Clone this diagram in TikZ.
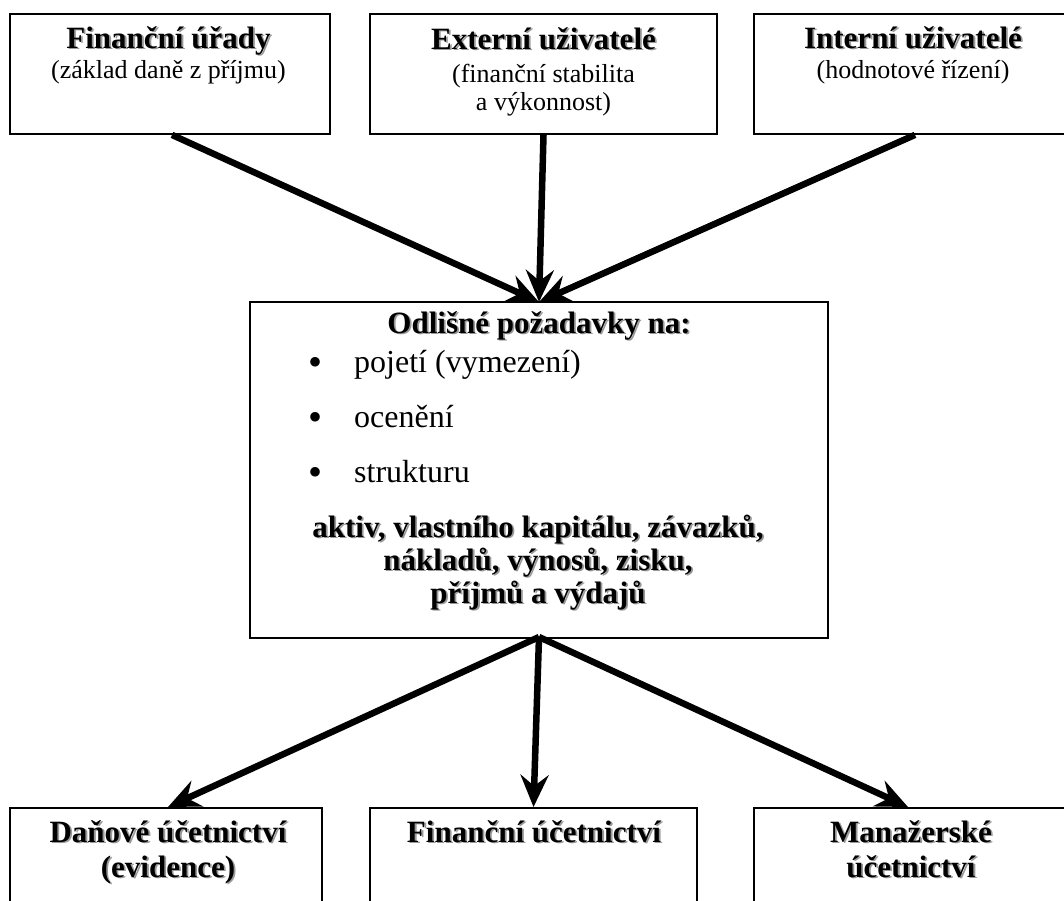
\documentclass[tikz,border=0pt]{standalone}
\usepackage{fontspec}
\setmainfont{Liberation Serif}
\usetikzlibrary{arrows.meta}

% bold heading with a soft grey drop shadow
\newcommand\shadowtext[1]{\leavevmode\rlap{\hspace{1.8pt}\raisebox{-1.8pt}{\color{black!40}#1}}#1}
\newcommand\headfont{\fontsize{31}{36}\selectfont\bfseries}
\newcommand\subfont{\fontsize{26}{30}\selectfont}
\newcommand\itemfont{\fontsize{32}{36}\selectfont}
\newcommand\bulletmark{\makebox[46pt][l]{\fontsize{40}{40}\selectfont\raisebox{-3pt}{•}}}

\tikzset{
  box/.style={draw=black, line width=1.8pt, fill=white, inner sep=0pt},
  label/.style={inner sep=0pt, anchor=base, align=center},
  itemtext/.style={inner sep=0pt, anchor=base west},
  flow/.style={line width=6.5pt, -{Stealth[length=32pt, width=28pt, inset=11pt]}}
}

\begin{document}
\begin{tikzpicture}[x=1pt, y=-1pt]
\useasboundingbox (0,0) rectangle (1064,900);
\clip (0,0) rectangle (1064,900);
\fill[white] (0,0) rectangle (1064,900);

% users on top
\node[box, minimum width=320pt, minimum height=120pt] (fu) at (170,74) {};
\node[box, minimum width=347pt, minimum height=120pt] (ext) at (543.5,74) {};
\node[box, minimum width=318pt, minimum height=120pt] (int) at (913,74) {};

\node[label] (fuT) at (168.5,48) {\headfont\shadowtext{Finanční úřady}};
\node[label] (fuS) at (168.5,78) {\subfont (základ daně z příjmu)};
\node[label] (extT) at (543.5,49) {\headfont\shadowtext{Externí uživatelé}};
\node[label] (extS) at (543.5,82) {\subfont (finanční stabilita};
\node[label] (extS2) at (543.5,110) {\subfont a výkonnost)};
\node[label] (intT) at (913,48) {\headfont\shadowtext{Interní uživatelé}};
\node[label] (intS) at (913,78) {\subfont (hodnotové řízení)};

% differing requirements
\node[box, minimum width=578pt, minimum height=336pt] (req) at (539,470) {};
\node[label] (reqT) at (539,333) {\headfont\shadowtext{Odlišné požadavky na:}};
\node[itemtext] (i1) at (308,372) {\itemfont\bulletmark pojetí (vymezení)};
\node[itemtext] (i2) at (308,427) {\itemfont\bulletmark ocenění};
\node[itemtext] (i3) at (308,482) {\itemfont\bulletmark strukturu};
\node[label] (r1) at (538,537) {\headfont\shadowtext{aktiv, vlastního kapitálu, závazků,}};
\node[label] (r2) at (538,570) {\headfont\shadowtext{nákladů, výnosů, zisku,}};
\node[label] (r3) at (538,603) {\headfont\shadowtext{příjmů a výdajů}};

% kinds of accounting at the bottom
\node[box, minimum width=312pt, minimum height=140pt, anchor=north] (tax) at (166,807) {};
\node[box, minimum width=327pt, minimum height=140pt, anchor=north] (fin) at (533.5,807) {};
\node[box, minimum width=314pt, minimum height=140pt, anchor=north] (man) at (911,807) {};

\node[label] (taxT) at (168,842) {\headfont\shadowtext{Daňové účetnictví}};
\node[label] (taxS) at (168,877) {\headfont\shadowtext{(evidence)}};
\node[label] (finT) at (534,842) {\headfont\shadowtext{Finanční účetnictví}};
\node[label] (manT) at (911,842) {\headfont\shadowtext{Manažerské}};
\node[label] (manS) at (911,877) {\headfont\shadowtext{účetnictví}};

% arrows
\coordinate (inTop) at (539,302);
\coordinate (outBot) at (539,637);
\draw[flow] ([xshift=2pt]fu.south) -- (inTop);
\draw[flow] (ext.south) -- (inTop);
\draw[flow] ([xshift=2pt]int.south) -- (inTop);
\draw[flow] (outBot) -- ([xshift=2pt]tax.north);
\draw[flow] (outBot) -- (fin.north);
\draw[flow] (outBot) -- ([xshift=-3pt]man.north);
\end{tikzpicture}
\end{document}
